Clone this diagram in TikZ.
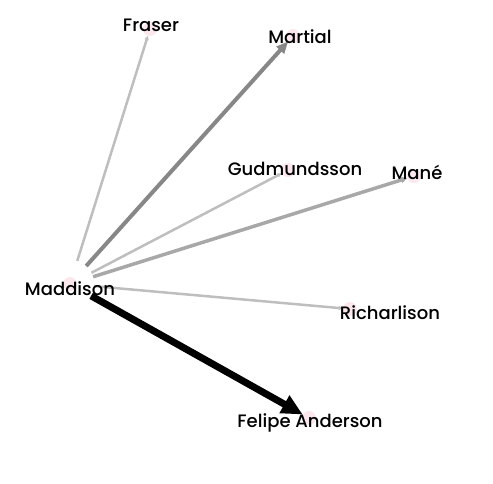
\documentclass[tikz,border=0pt]{standalone}
\usepackage{fontspec}
\setmainfont{Poppins Medium}
\usepackage{tikz}
\usetikzlibrary{arrows.meta}
\definecolor{EdgeLight}{RGB}{190,190,190}
\definecolor{EdgeMid}{RGB}{168,168,168}
\definecolor{EdgeDark}{RGB}{135,135,135}
\definecolor{DotPink}{RGB}{250,232,236}
\tikzset{
  vertex/.style={circle, minimum size=14pt, inner sep=0pt, fill=DotPink, draw=none},
  player/.style={font=\fontsize{18}{21}\selectfont, inner sep=0pt, text=black},
  pass/.style={shorten <=17pt}
}

\begin{document}
\begin{tikzpicture}[x=1pt, y=-1pt]
  \useasboundingbox (0,0) rectangle (493,483);
  % players
  \node[vertex] (madd) at (70,284) {};
  \node[vertex] (fraser) at (150,29) {};
  \node[vertex] (martial) at (293,36) {};
  \node[vertex] (gudm) at (288,170) {};
  \node[vertex] (mane) at (414,176) {};
  \node[vertex] (richar) at (350,309) {};
  \node[vertex] (felipe) at (309,418) {};
  % passes
  \draw[pass, EdgeLight, line width=2.5pt, -{Triangle[length=4pt, width=4pt]}] (madd) -- (fraser);
  \draw[pass, EdgeDark, line width=4pt, -{Triangle[length=12pt, width=10pt]}] (madd) -- (martial);
  \draw[pass, EdgeLight, line width=2.5pt, -{Triangle[length=4pt, width=4pt]}] (madd) -- (gudm);
  \draw[pass, EdgeMid, line width=3.5pt, -{Triangle[length=6pt, width=6pt]}] (madd) -- (mane);
  \draw[pass, EdgeLight, line width=2.5pt, -{Triangle[length=4pt, width=4pt]}] (madd) -- (richar);
  \draw[pass, black, line width=7pt, -{Triangle[length=21pt, width=19pt]}] (madd) -- (felipe);
  % names
  \node[player] (lmadd) at (70,289) {Maddison};
  \node[player] (lfraser) at (151,25) {Fraser};
  \node[player] (lmartial) at (300,37) {Martial};
  \node[player] (lgudm) at (295,169) {Gudmundsson};
  \node[player] (lmane) at (417,172) {Mané};
  \node[player] (lrichar) at (390,313) {Richarlison};
  \node[player] (lfelipe) at (310,423) {Felipe Anderson};
\end{tikzpicture}
\end{document}
